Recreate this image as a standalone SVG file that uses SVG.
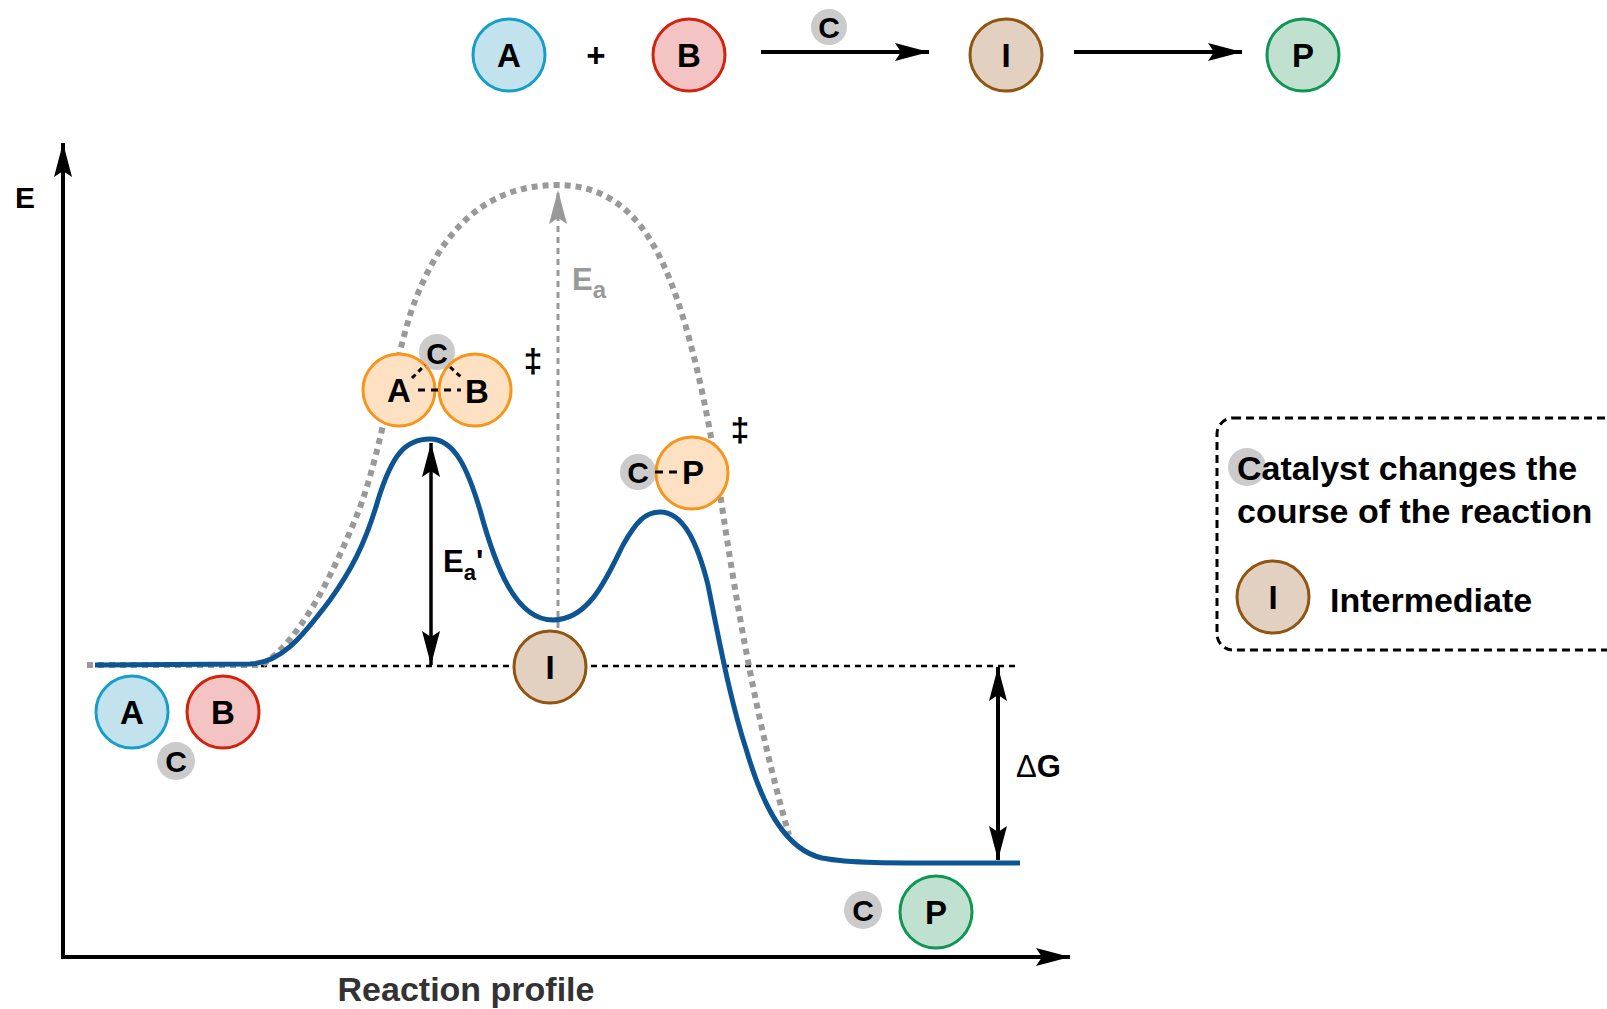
<svg xmlns="http://www.w3.org/2000/svg" width="1607" height="1009" viewBox="0 0 1607 1009">
<style>
text{font-family:"Liberation Sans",Arial,sans-serif;font-weight:bold;fill:#000}
.let{font-size:33px;text-anchor:middle}
.cl{font-size:30px;text-anchor:middle}
.big{font-size:34px}
.cA{fill:#c2e2ee;stroke:#169ec9;stroke-width:3}
.cB{fill:#f4c3c3;stroke:#d2230e;stroke-width:3}
.cI{fill:#e2d1c0;stroke:#8f5511;stroke-width:3}
.cP{fill:#c1e1d0;stroke:#0f9655;stroke-width:3}
.cT{fill:#fee1c2;stroke:#f6941c;stroke-width:3}
.bd{fill:#cbcbcb}
.blk{stroke:#000;fill:none}
.dsh{stroke:#000;stroke-width:2.5;stroke-dasharray:6 5;fill:none}
.tsd{stroke:#000;stroke-width:3;fill:none}
</style>
<defs>
<marker id="ah" markerWidth="36" markerHeight="20" refX="34" refY="10" orient="auto-start-reverse" markerUnits="userSpaceOnUse"><path d="M0,1 L34,10 L0,19 L6,10 Z" fill="#000"/></marker>
<marker id="ahg" markerWidth="36" markerHeight="20" refX="34" refY="10" orient="auto" markerUnits="userSpaceOnUse"><path d="M0,1 L34,10 L0,19 L6,10 Z" fill="#999"/></marker>
</defs>

<g id="connectors">
<line x1="63" y1="959" x2="63" y2="143" class="blk" stroke-width="4" marker-end="url(#ah)"/>
<line x1="61" y1="957" x2="1070" y2="957" class="blk" stroke-width="4" marker-end="url(#ah)"/>
<line x1="761" y1="52" x2="929" y2="52" class="blk" stroke-width="4" marker-end="url(#ah)"/>
<line x1="1074" y1="52" x2="1242" y2="52" class="blk" stroke-width="4" marker-end="url(#ah)"/>
<line x1="261" y1="666" x2="1015" y2="666" class="dsh"/>
<path d="M87,665 L262,665 C300,640 330,580 355,520 C380,460 390,380 410,315 C440,225 490,185 557,185 C620,185 650,230 670,280 C690,330 705,400 715,460 C730,560 750,700 789,835" fill="none" stroke="#999" stroke-width="6" stroke-dasharray="6 5"/>
<line x1="558" y1="628" x2="558" y2="190" stroke="#999" stroke-width="3" stroke-dasharray="6 5" marker-end="url(#ahg)"/>
<path d="M95,665 L250,664 C280,663 300,640 330,600 C350,572 365,545 378,500 C392,455 405,439 430,439 C455,439 468,470 480,510 C495,565 515,620 553,620 C590,620 608,575 623,545 C636,522 645,512 660,512 C684,512 698,545 708,585 C719,640 730,700 747,752 C764,810 787,850 822,858 C852,864 900,863 1020,863" fill="none" stroke="#0c5493" stroke-width="5"/>
<line x1="431" y1="443" x2="431" y2="665" class="blk" stroke-width="3.5" marker-start="url(#ah)" marker-end="url(#ah)"/>
<line x1="998" y1="667" x2="998" y2="860" class="blk" stroke-width="4" marker-start="url(#ah)" marker-end="url(#ah)"/>
</g>

<g id="top-A"><circle cx="509" cy="55" r="36" class="cA"/><text x="509" y="67" class="let">A</text></g>
<text x="596" y="67" class="let" font-size="28">+</text>
<g id="top-B"><circle cx="689" cy="55" r="36" class="cB"/><text x="689" y="67" class="let">B</text></g>
<g id="top-C"><circle cx="829" cy="27" r="18" class="bd"/><text x="829" y="38" class="cl">C</text></g>
<g id="top-I"><circle cx="1006" cy="55" r="36" class="cI"/><text x="1006" y="67" class="let">I</text></g>
<g id="top-P"><circle cx="1303" cy="55" r="36" class="cP"/><text x="1303" y="67" class="let">P</text></g>

<text x="15" y="208" font-size="30px">E</text>
<text x="466" y="1001" font-size="34px" text-anchor="middle" style="fill:#333">Reaction profile</text>

<g id="reactants">
<circle cx="132" cy="712" r="36" class="cA"/><text x="132" y="724" class="let">A</text>
<circle cx="223" cy="712" r="36" class="cB"/><text x="223" y="724" class="let">B</text>
<circle cx="176" cy="761" r="19" class="bd"/><text x="176" y="772" class="cl">C</text>
</g>

<g id="products">
<circle cx="863" cy="910" r="19" class="bd"/><text x="863" y="921" class="cl">C</text>
<circle cx="936" cy="912" r="36" class="cP"/><text x="936" y="924" class="let">P</text>
</g>

<g id="intermediate">
<circle cx="550" cy="667" r="36" class="cI"/><text x="550" y="679" class="let">I</text>
</g>

<g id="ts1">
<circle cx="437" cy="352" r="18" class="bd"/>
<circle cx="399" cy="390" r="36" class="cT"/>
<circle cx="475" cy="390" r="36" class="cT"/>
<line x1="412" y1="378" x2="425" y2="365" class="tsd" stroke-dasharray="5 4"/>
<line x1="450" y1="367" x2="462" y2="378" class="tsd" stroke-dasharray="5 4"/>
<line x1="418" y1="390" x2="461" y2="390" class="tsd" stroke-dasharray="7 6"/>
<text x="437" y="364" class="cl">C</text>
<text x="399" y="402" class="let">A</text>
<text x="477" y="403" class="let">B</text>
<text x="533" y="372" font-size="34px" text-anchor="middle">‡</text>
</g>

<g id="ts2">
<circle cx="638" cy="472" r="18" class="bd"/>
<circle cx="692" cy="473" r="36" class="cT"/>
<line x1="655" y1="472" x2="679" y2="472" class="tsd" stroke-dasharray="8 6"/>
<text x="638" y="483" class="cl">C</text>
<text x="693" y="484" class="let">P</text>
<text x="740" y="441" font-size="34px" text-anchor="middle">‡</text>
</g>

<text x="443" y="572" font-size="31px">E<tspan font-size="22px" dy="8">a</tspan><tspan dy="-8">'</tspan></text>
<text x="572" y="290" font-size="31px" style="fill:#999">E<tspan font-size="24px" dy="8" style="fill:#999">a</tspan></text>
<text x="1016" y="777" font-size="31px"><tspan font-weight="normal">Δ</tspan>G</text>

<g id="legend">
<rect x="1217" y="418" width="420" height="232" rx="16" fill="none" stroke="#000" stroke-width="3" stroke-dasharray="8 5"/>
<circle cx="1247" cy="467" r="19" class="bd"/>
<text x="1237" y="480" class="big">Catalyst changes the</text>
<text x="1237" y="523" class="big">course of the reaction</text>
<circle cx="1273" cy="597" r="36" class="cI"/><text x="1273" y="609" class="let">I</text>
<text x="1330" y="612" class="big">Intermediate</text>
</g>
</svg>
